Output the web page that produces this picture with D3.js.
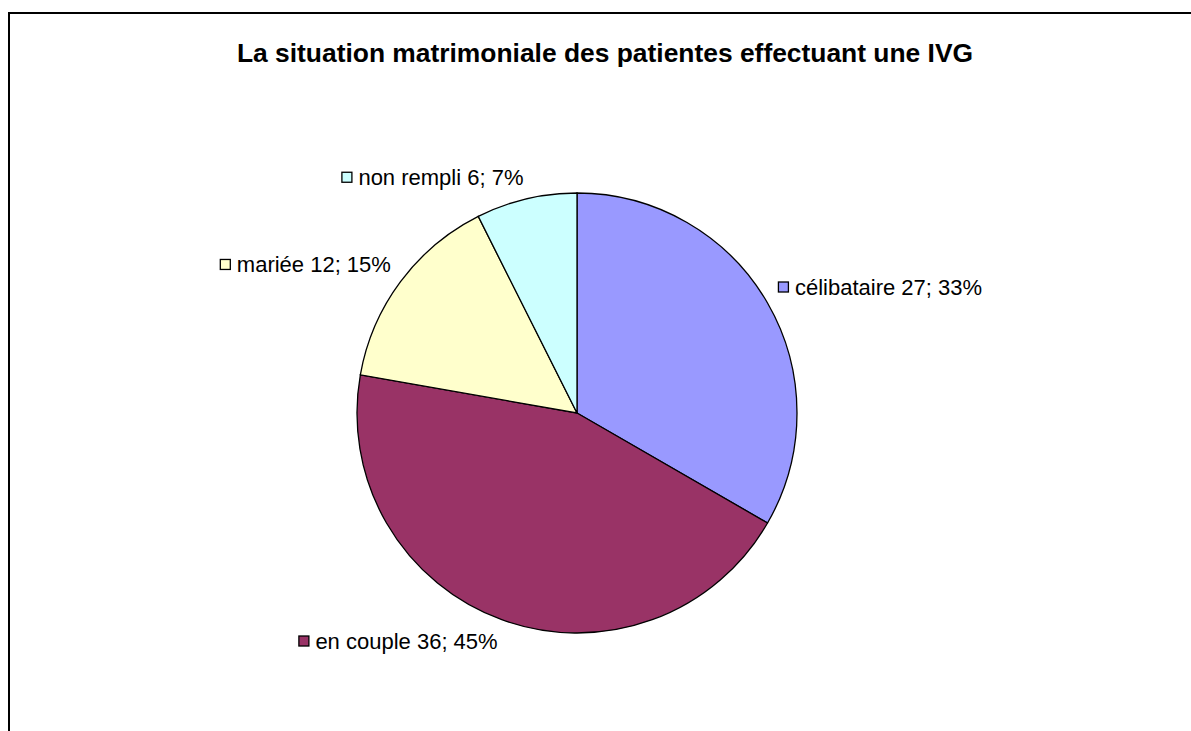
<!DOCTYPE html>
<html>
<head>
<meta charset="utf-8">
<script src="https://cdn.jsdelivr.net/npm/d3@7"></script>
<style>
body { margin: 0; background: #fff; }
svg { display: block; }
</style>
</head>
<body>
<script>
var categories = ["célibataire", "en couple", "mariée", "non rempli"];
var counts = [27, 36, 12, 6];
var percentLabels = ["33%", "45%", "15%", "7%"];
var colors = ["#9999FF", "#993366", "#FFFFCC", "#CCFFFF"];
var title = "La situation matrimoniale des patientes effectuant une IVG";

var svgWidth = 1191;
var svgHeight = 731;
var cx = 577, cy = 413, radius = 220;
var labelRadius = 232;
var boxHeight = 20;
var fontFam = "Arial, 'Liberation Sans', sans-serif";

var svg = d3.select('body').append('svg')
	.attr("width", svgWidth)
	.attr("height", svgHeight);

// chart frame (runs off the right and bottom edge)
svg.append("rect")
	.attr("x", 9)
	.attr("y", 13)
	.attr("width", 1200)
	.attr("height", 800)
	.attr("fill", "none")
	.attr("stroke", "#000")
	.attr("stroke-width", 2);

svg.append("text")
	.attr("x", 605)
	.attr("y", 62)
	.attr("text-anchor", "middle")
	.style("font-family", fontFam)
	.style("font-weight", "bold")
	.style("font-size", "26.4px")
	.text(title);

var slices = categories.map(function(c, i){
	return {name: c, value: counts[i], pct: percentLabels[i], color: colors[i]};
});

var pie = d3.pie().sort(null).value(function(d){ return d.value; });
var arc = d3.arc().innerRadius(0).outerRadius(radius);
var arcs = pie(slices);

var g = svg.append("g").attr("transform", "translate(" + cx + "," + cy + ")");

g.selectAll("path")
	.data(arcs)
	.enter()
	.append("path")
	.attr("d", arc)
	.attr("fill", function(d){ return d.data.color; })
	.attr("stroke", "#000")
	.attr("stroke-width", 1.3);

// labels: legend key square + text; the box corner nearest the pie sits on labelRadius
var labels = g.selectAll("g.lbl")
	.data(arcs)
	.enter()
	.append("g")
	.attr("class", "lbl");

labels.each(function(d){
	var sel = d3.select(this);
	var mid = (d.startAngle + d.endAngle) / 2;
	var px = Math.sin(mid) * labelRadius;
	var py = -Math.cos(mid) * labelRadius;
	var txt = sel.append("text")
		.attr("y", 7.5)
		.attr("x", 17)
		.style("font-family", fontFam)
		.style("font-size", "22px")
		.text(d.data.name + " " + d.data.value + "; " + d.data.pct);
	var w = 17 + txt.node().getComputedTextLength();
	sel.append("rect")
		.attr("x", 0.5)
		.attr("y", -5)
		.attr("width", 10)
		.attr("height", 10)
		.attr("fill", d.data.color)
		.attr("stroke", "#000")
		.attr("stroke-width", 1.3);
	var left = px >= 0 ? px : px - w;
	var midY = py < 0 ? py - boxHeight / 2 : py + boxHeight / 2;
	sel.attr("transform", "translate(" + left + "," + midY + ")");
});
</script>
</body>
</html>
